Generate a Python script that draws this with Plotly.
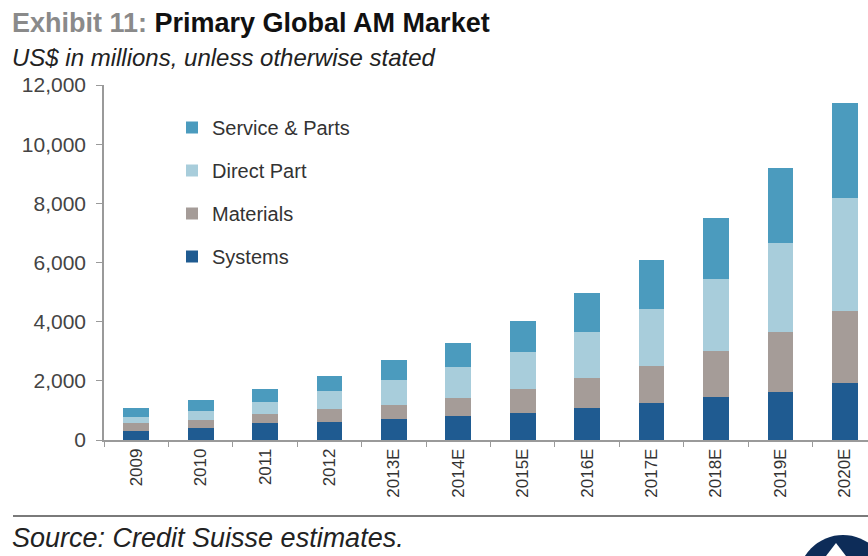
import plotly.graph_objects as go

years = ["2009", "2010", "2011", "2012", "2013E", "2014E", "2015E", "2016E",
         "2017E", "2018E", "2019E", "2020E"]
systems = [320, 395, 570, 610, 700, 810, 900, 1080, 1240, 1440, 1610, 1915]
materials = [250, 290, 305, 430, 485, 620, 820, 1015, 1260, 1575, 2030, 2455]
direct_part = [200, 280, 415, 600, 845, 1025, 1260, 1555, 1925, 2415, 3005, 3795]
service_parts = [310, 385, 430, 540, 675, 835, 1050, 1315, 1655, 2080, 2565, 3210]

series = [
    ("Systems", systems, "#1f5b91", 4),
    ("Materials", materials, "#a59c98", 3),
    ("Direct Part", direct_part, "#a8cddb", 2),
    ("Service & Parts", service_parts, "#4b9bbe", 1),
]

FONT = "Liberation Sans, Arial, sans-serif"

fig = go.Figure()
for name, vals, col, rank in series:
    fig.add_trace(go.Bar(x=years, y=vals, name=name, marker_color=col,
                         marker_line_width=0, width=0.4, legendgroup=name,
                         legendrank=rank))

W, H = 868, 556
ml, mr, mt, mb = 104, 0, 85, 116
pw, ph = W - ml - mr, H - mt - mb


def px_x(p):
    return (p - ml) / pw


def px_y(p):
    return (H - mb - p) / ph


fig.update_layout(
    width=W, height=H,
    margin=dict(l=ml, r=mr, t=mt, b=mb, pad=0),
    barmode="stack",
    paper_bgcolor="white", plot_bgcolor="white",
    font=dict(family=FONT, color="#333"),
    showlegend=True,
    legend=dict(x=px_x(172), y=px_y(108), xanchor="left", yanchor="top",
                traceorder="grouped", tracegroupgap=14,
                font=dict(size=20, color="#333", family=FONT),
                bgcolor="rgba(0,0,0,0)", itemclick=False),
    xaxis=dict(range=[-0.5, 11.36], showline=True, linecolor="#9a9a9a", linewidth=1.5,
               ticks="outside", tickson="boundaries", ticklen=5, tickcolor="#9a9a9a",
               tickangle=-90, tickfont=dict(size=17, color="#333", family=FONT),
               showgrid=False, fixedrange=True),
    yaxis=dict(range=[0, 12000], tickvals=[0, 2000, 4000, 6000, 8000, 10000, 12000],
               tickformat=",d", showline=True, linecolor="#9a9a9a", linewidth=1.5,
               ticks="outside", ticklen=6, tickcolor="#9a9a9a", ticklabelstandoff=6,
               tickfont=dict(size=21, color="#444", family=FONT),
               showgrid=False, zeroline=False, fixedrange=True),
)

fig.add_annotation(
    x=px_x(10), y=px_y(23), xref="paper", yref="paper", xanchor="left", yanchor="middle",
    text="<b><span style='color:#8a8a8a'>Exhibit 11:</span> Primary Global AM Market</b>",
    showarrow=False, font=dict(size=27, color="#111", family=FONT))
fig.add_annotation(
    x=px_x(10), y=px_y(57), xref="paper", yref="paper", xanchor="left", yanchor="middle",
    text="<i>US$ in millions, unless otherwise stated</i>",
    showarrow=False, font=dict(size=24, color="#222", family=FONT))
fig.add_annotation(
    x=px_x(10), y=px_y(538), xref="paper", yref="paper", xanchor="left", yanchor="middle",
    text="<i>Source: Credit Suisse estimates.</i>",
    showarrow=False, font=dict(size=27, color="#222", family=FONT))

fig.add_shape(type="line", xref="paper", yref="paper",
              x0=px_x(13), x1=1.0, y0=px_y(516), y1=px_y(516),
              line=dict(color="#7a7a7a", width=2))
fig.add_shape(type="circle", xref="paper", yref="paper",
              x0=px_x(798), x1=px_x(888), y0=px_y(625), y1=px_y(535),
              fillcolor="#0d2c58", line=dict(width=0))
tri = "M {:.4f} {:.4f} L {:.4f} {:.4f} L {:.4f} {:.4f} Z".format(
    px_x(836), px_y(543), px_x(826), px_y(556), px_x(846), px_y(556))
fig.add_shape(type="path", xref="paper", yref="paper", path=tri,
              fillcolor="white", line=dict(width=0))

fig.write_html("out.html")
